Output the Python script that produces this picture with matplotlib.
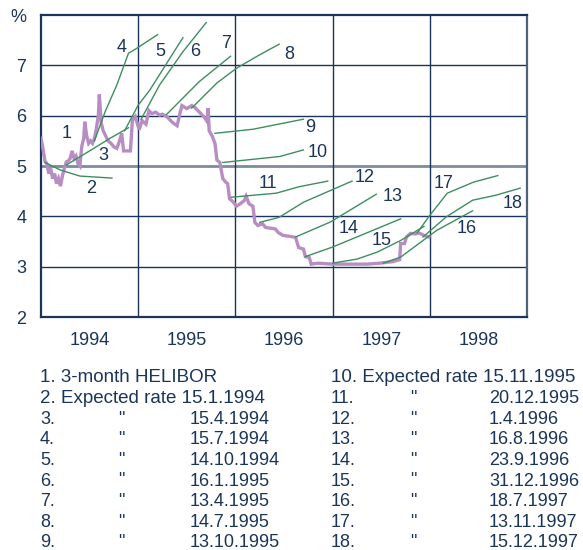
import matplotlib
matplotlib.use("Agg")
import matplotlib.pyplot as plt

plt.rcParams['font.family'] = ['Liberation Sans', 'DejaVu Sans']

NAVY = '#1B355A'
PURPLE = '#B78DC4'
GREEN = '#3E8E5E'
FS = 13

# ---- 3-month HELIBOR (year, %) ----
helibor_t = [1994.00, 1994.02, 1994.04, 1994.06, 1994.08, 1994.10, 1994.12, 1994.14,
             1994.16, 1994.18, 1994.20, 1994.22, 1994.24, 1994.26, 1994.28, 1994.30,
             1994.32, 1994.34, 1994.36, 1994.38, 1994.40, 1994.42, 1994.44, 1994.45,
             1994.47, 1994.49, 1994.51, 1994.53, 1994.55, 1994.57, 1994.59, 1994.60,
             1994.62, 1994.64, 1994.66, 1994.69, 1994.72, 1994.75, 1994.78, 1994.80,
             1994.83, 1994.85, 1994.88, 1994.92, 1994.94, 1994.97, 1995.01, 1995.04,
             1995.08, 1995.11, 1995.14, 1995.18, 1995.22, 1995.25, 1995.30, 1995.35,
             1995.40, 1995.43, 1995.45, 1995.50, 1995.55, 1995.58, 1995.63, 1995.68,
             1995.71, 1995.72, 1995.73, 1995.76, 1995.79, 1995.81, 1995.84, 1995.87,
             1995.90, 1995.92, 1995.94, 1995.98, 1996.01, 1996.05, 1996.09, 1996.11,
             1996.14, 1996.18, 1996.20, 1996.23, 1996.28, 1996.31, 1996.41, 1996.44,
             1996.49, 1996.57, 1996.62, 1996.65, 1996.70, 1996.72, 1996.76, 1996.78,
             1996.85, 1997.00, 1997.20, 1997.35, 1997.49, 1997.62, 1997.69, 1997.70,
             1997.74, 1997.76, 1997.80, 1997.85, 1997.89, 1997.94, 1997.99]
helibor_v = [5.55, 5.35, 5.10, 5.05, 4.85, 4.95, 4.75, 4.85,
             4.65, 4.75, 4.60, 4.80, 4.95, 5.08, 5.10, 5.15,
             5.30, 5.15, 5.20, 5.05, 5.00, 5.40, 5.55, 5.88,
             5.60, 5.45, 5.50, 5.45, 5.55, 5.75, 6.00, 6.42,
             5.85, 5.70, 5.62, 5.50, 5.45, 5.38, 5.35, 5.45,
             5.65, 5.30, 5.30, 5.30, 5.90, 5.98, 5.72, 5.90,
             5.83, 6.10, 6.04, 6.07, 6.01, 6.03, 5.97, 5.87,
             5.80, 6.05, 6.20, 6.14, 6.20, 6.17, 6.07, 5.97,
             5.88, 6.15, 5.70, 5.60, 5.45, 5.12, 5.07, 4.75,
             4.68, 4.65, 4.35, 4.28, 4.20, 4.25, 4.31, 4.40,
             4.25, 4.20, 3.88, 3.82, 3.85, 3.78, 3.75, 3.68,
             3.62, 3.60, 3.58, 3.38, 3.35, 3.20, 3.18, 3.05,
             3.07, 3.05, 3.05, 3.05, 3.07, 3.10, 3.14, 3.46,
             3.46, 3.59, 3.66, 3.65, 3.67, 3.62, 3.59]

# ---- Expected rates (year, %) ----
exp02_t, exp02_v = [1994.04, 1994.20, 1994.40, 1994.73], [5.07, 4.92, 4.80, 4.76]
exp03_t, exp03_v = [1994.26, 1994.50, 1994.71, 1994.90], [5.02, 5.30, 5.55, 5.76]
exp04_t, exp04_v = [1994.55, 1994.66, 1994.78, 1994.90, 1994.97, 1995.20], [5.50, 6.08, 6.61, 7.24, 7.32, 7.61]
exp05_t, exp05_v = [1994.86, 1995.00, 1995.12, 1995.46], [5.70, 6.21, 6.51, 7.55]
exp06_t, exp06_v = [1995.03, 1995.22, 1995.46, 1995.70], [5.93, 6.61, 7.27, 7.85]
exp07_t, exp07_v = [1995.29, 1995.63, 1995.95], [6.02, 6.68, 7.18]
exp08_t, exp08_v = [1995.55, 1995.81, 1996.01, 1996.25, 1996.45], [6.15, 6.65, 6.94, 7.21, 7.42]
exp09_t, exp09_v = [1995.79, 1996.18, 1996.70], [5.65, 5.73, 5.93]
exp10_t, exp10_v = [1995.87, 1996.46, 1996.70], [5.07, 5.19, 5.32]
exp11_t, exp11_v = [1995.96, 1996.42, 1996.66, 1996.95], [4.38, 4.46, 4.59, 4.70]
exp12_t, exp12_v = [1996.25, 1996.45, 1996.70, 1997.20], [3.88, 3.98, 4.28, 4.70]
exp13_t, exp13_v = [1996.62, 1996.98, 1997.45], [3.59, 3.89, 4.44]
exp14_t, exp14_v = [1996.72, 1997.00, 1997.70], [3.20, 3.39, 3.95]
exp15_t, exp15_v = [1997.00, 1997.25, 1997.46, 1997.70, 1997.94], [3.07, 3.15, 3.29, 3.52, 3.80]
exp16_t, exp16_v = [1997.52, 1997.70, 1998.07, 1998.44], [3.07, 3.19, 3.72, 4.11]
exp17_t, exp17_v = [1997.87, 1998.00, 1998.18, 1998.45, 1998.70], [3.67, 4.02, 4.46, 4.68, 4.81]
exp18_t, exp18_v = [1997.93, 1998.17, 1998.44, 1998.68, 1998.93], [3.59, 3.99, 4.32, 4.42, 4.56]

expected = [(exp02_t, exp02_v), (exp03_t, exp03_v), (exp04_t, exp04_v), (exp05_t, exp05_v),
            (exp06_t, exp06_v), (exp07_t, exp07_v), (exp08_t, exp08_v), (exp09_t, exp09_v),
            (exp10_t, exp10_v), (exp11_t, exp11_v), (exp12_t, exp12_v), (exp13_t, exp13_v),
            (exp14_t, exp14_v), (exp15_t, exp15_v), (exp16_t, exp16_v), (exp17_t, exp17_v),
            (exp18_t, exp18_v)]

# curve number labels
curve_labels = ['1', '2', '3', '4', '5', '6', '7', '8', '9', '10', '11', '12', '13', '14', '15', '16', '17', '18']
label_x = [1994.26, 1994.52, 1994.64, 1994.83, 1995.23, 1995.59, 1995.90, 1996.55, 1996.77,
           1996.85, 1996.33, 1997.33, 1997.62, 1997.16, 1997.50, 1998.38, 1998.14, 1998.85]
label_y = [5.64, 4.56, 5.20, 7.36, 7.27, 7.27, 7.44, 7.21, 5.76,
           5.26, 4.66, 4.78, 4.40, 3.75, 3.51, 3.75, 4.66, 4.25]

year_ticks = [1994.5, 1995.5, 1996.5, 1997.5, 1998.5]
year_labels = ['1994', '1995', '1996', '1997', '1998']
y_ticks = [2, 3, 4, 5, 6, 7, 8]
y_labels = ['2', '3', '4', '5', '6', '7', '%']

legend_left = [('1. 3-month HELIBOR', '', ''),
               ('2. Expected rate 15.1.1994', '', ''),
               ('3.', '"', '15.4.1994'),
               ('4.', '"', '15.7.1994'),
               ('5.', '"', '14.10.1994'),
               ('6.', '"', '16.1.1995'),
               ('7.', '"', '13.4.1995'),
               ('8.', '"', '14.7.1995'),
               ('9.', '"', '13.10.1995')]
legend_right = [('10. Expected rate 15.11.1995', '', ''),
                ('11.', '"', '20.12.1995'),
                ('12.', '"', '1.4.1996'),
                ('13.', '"', '16.8.1996'),
                ('14.', '"', '23.9.1996'),
                ('15.', '"', '31.12.1996'),
                ('16.', '"', '18.7.1997'),
                ('17.', '"', '13.11.1997'),
                ('18.', '"', '15.12.1997')]

W, H = 583, 550
fig = plt.figure(figsize=(W / 100, H / 100), dpi=100)
ax = fig.add_axes([41 / W, 1 - 317 / H, (527 - 41) / W, (317 - 15) / H])
ax.set_xlim(1994, 1999)
ax.set_ylim(2, 8)

for yv in [3, 4, 6, 7]:
    ax.axhline(yv, color=NAVY, lw=1.0, zorder=1)
ax.axhline(5, color='#7B8CA0', lw=2.0, zorder=1)
for xv in [1995, 1996, 1997, 1998]:
    ax.axvline(xv, color=NAVY, lw=1.0, zorder=1)

for s in ['left', 'bottom', 'top']:
    ax.spines[s].set_color(NAVY)
    ax.spines[s].set_linewidth(1.6)
ax.spines['right'].set_color('#50627A')
ax.spines['right'].set_linewidth(1.6)

ax.plot(helibor_t, helibor_v, color=PURPLE, lw=2.4, zorder=3, solid_joinstyle='miter')
for t, v in expected:
    ax.plot(t, v, color=GREEN, lw=1.0, zorder=4)

for lab, lx, ly in zip(curve_labels, label_x, label_y):
    ax.text(lx, ly, lab, color=NAVY, fontsize=FS, ha='center', va='center', zorder=5)

ax.set_xticks(year_ticks)
ax.set_xticklabels(year_labels)
ax.set_yticks(y_ticks)
ax.set_yticklabels(y_labels)
ax.tick_params(axis='both', length=0, colors=NAVY, labelsize=FS)
ax.tick_params(axis='x', pad=11)
ax.tick_params(axis='y', pad=10.5)

row_y0 = 378
row_dy = 20.6
for col_x, entries in [((40, 118, 190), legend_left), ((331, 410, 489), legend_right)]:
    for i, (a, q, d) in enumerate(entries):
        y = 1 - (row_y0 + i * row_dy) / H
        fs_a = 13.5 if not q else FS
        fig.text(col_x[0] / W, y, a, color=NAVY, fontsize=fs_a, va='center', ha='left')
        if q:
            fig.text(col_x[1] / W, y, q, color=NAVY, fontsize=FS, va='center', ha='left')
        if d:
            fig.text(col_x[2] / W, y, d, color=NAVY, fontsize=FS, va='center', ha='left')

fig.savefig('out.png', dpi=100)
